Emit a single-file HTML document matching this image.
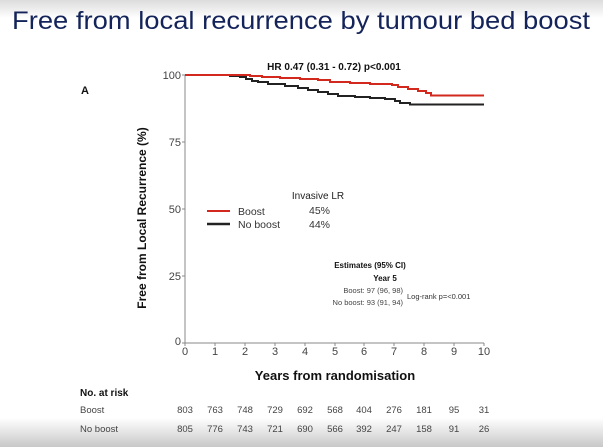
<!DOCTYPE html>
<html><head><style>
html,body{margin:0;padding:0;background:#fff}
svg{display:block}
</style></head><body>
<svg width="603" height="447" viewBox="0 0 603 447" xmlns="http://www.w3.org/2000/svg" font-family="Liberation Sans, Arial, sans-serif">
<defs>
<linearGradient id="tg" x1="0" y1="0" x2="0" y2="1"><stop offset="0" stop-color="#dcdcdc"/><stop offset="1" stop-color="#fff"/></linearGradient>
<linearGradient id="bg" x1="0" y1="0" x2="0" y2="1"><stop offset="0" stop-color="#fff"/><stop offset="1" stop-color="#c8c8c8"/></linearGradient>
</defs>
<rect width="603" height="447" fill="#fff"/>
<rect width="603" height="18" fill="url(#tg)"/>
<rect y="418" width="603" height="29" fill="url(#bg)"/>
<text x="12" y="29" font-size="25" fill="#14245a" textLength="578" lengthAdjust="spacingAndGlyphs">Free from local recurrence by tumour bed boost</text>
<text x="81" y="94" font-size="11" font-weight="bold" fill="#111">A</text>
<text x="334" y="70" font-size="10" font-weight="bold" fill="#111" text-anchor="middle">HR 0.47 (0.31 - 0.72) p&lt;0.001</text>
<g stroke="#888" stroke-width="1" fill="none">
<line x1="185" y1="75" x2="185" y2="343"/>
<line x1="185" y1="343" x2="484" y2="343"/>
<line x1="182" y1="75" x2="185" y2="75"/><line x1="182" y1="142" x2="185" y2="142"/><line x1="182" y1="209" x2="185" y2="209"/><line x1="182" y1="276" x2="185" y2="276"/><line x1="182" y1="343" x2="185" y2="343"/>
<line x1="185" y1="343" x2="185" y2="346"/><line x1="215" y1="343" x2="215" y2="346"/><line x1="245" y1="343" x2="245" y2="346"/><line x1="275" y1="343" x2="275" y2="346"/><line x1="305" y1="343" x2="305" y2="346"/><line x1="335" y1="343" x2="335" y2="346"/><line x1="364" y1="343" x2="364" y2="346"/><line x1="394" y1="343" x2="394" y2="346"/><line x1="424" y1="343" x2="424" y2="346"/><line x1="454" y1="343" x2="454" y2="346"/><line x1="484" y1="343" x2="484" y2="346"/>
</g>
<g font-size="11" fill="#444" text-anchor="end">
<text x="181" y="79">100</text><text x="181" y="146">75</text><text x="181" y="213">50</text><text x="181" y="280">25</text><text x="181" y="345">0</text>
</g>
<g font-size="11" fill="#444" text-anchor="middle">
<text x="185" y="355">0</text><text x="215" y="355">1</text><text x="245" y="355">2</text><text x="275" y="355">3</text><text x="305" y="355">4</text><text x="335" y="355">5</text><text x="364" y="355">6</text><text x="394" y="355">7</text><text x="424" y="355">8</text><text x="454" y="355">9</text><text x="484" y="355">10</text>
</g>
<text transform="translate(146,218) rotate(-90)" font-size="12" font-weight="bold" fill="#111" text-anchor="middle">Free from Local Recurrence (%)</text>
<text x="335" y="380" font-size="13" font-weight="bold" fill="#111" text-anchor="middle">Years from randomisation</text>
<polyline fill="none" stroke="#222" stroke-width="2" points="185,75 230,75 230,76 240,76 240,77 246,77 246,79 252,79 252,81 258,81 258,82 268,82 268,84 285,84 285,86 298,86 298,88 308,88 308,90 318,90 318,92 328,92 328,94 338,94 338,96 355,96 355,97 370,97 370,98 385,98 385,99 395,99 395,101 400,101 400,103 410,103 410,104.5 484,104.5"/>
<polyline fill="none" stroke="#d2281e" stroke-width="2" points="185,75 250,75 250,76 262,76 262,77 280,77 280,78 300,78 300,79 318,79 318,80 330,80 330,82 350,82 350,83 370,83 370,84 392,84 392,85 398,85 398,87 408,87 408,89 418,89 418,91 426,91 426,93 431,93 431,95.5 484,95.5"/>
<text x="318" y="199" font-size="10" fill="#222" text-anchor="middle">Invasive LR</text>
<line x1="207" y1="211" x2="230" y2="211" stroke="#d2281e" stroke-width="2"/>
<line x1="207" y1="224" x2="230" y2="224" stroke="#222" stroke-width="2.5"/>
<text x="238" y="215" font-size="10.5" fill="#333">Boost</text>
<text x="238" y="228" font-size="10.5" fill="#333">No boost</text>
<text x="309" y="214" font-size="10.5" fill="#333">45%</text>
<text x="309" y="228" font-size="10.5" fill="#333">44%</text>
<text x="370" y="268" font-size="8" font-weight="bold" fill="#111" text-anchor="middle">Estimates (95% CI)</text>
<text x="385" y="281" font-size="8" font-weight="bold" fill="#111" text-anchor="middle">Year 5</text>
<text x="403" y="293" font-size="7.5" fill="#444" text-anchor="end">Boost:  97 (96, 98)</text>
<text x="403" y="305" font-size="7.5" fill="#444" text-anchor="end">No boost:  93 (91, 94)</text>
<text x="407" y="299" font-size="7.5" fill="#333">Log-rank p=&lt;0.001</text>
<text x="80" y="396" font-size="10" font-weight="bold" fill="#111">No. at risk</text>
<text x="80" y="413" font-size="9.5" fill="#444">Boost</text>
<text x="80" y="432" font-size="9.5" fill="#444">No boost</text>
<g font-size="9.5" fill="#444" text-anchor="middle">
<text x="185" y="413">803</text><text x="215" y="413">763</text><text x="245" y="413">748</text><text x="275" y="413">729</text><text x="305" y="413">692</text><text x="335" y="413">568</text><text x="364" y="413">404</text><text x="394" y="413">276</text><text x="424" y="413">181</text><text x="454" y="413">95</text><text x="484" y="413">31</text>
<text x="185" y="432">805</text><text x="215" y="432">776</text><text x="245" y="432">743</text><text x="275" y="432">721</text><text x="305" y="432">690</text><text x="335" y="432">566</text><text x="364" y="432">392</text><text x="394" y="432">247</text><text x="424" y="432">158</text><text x="454" y="432">91</text><text x="484" y="432">26</text>
</g>
</svg>
</body></html>
